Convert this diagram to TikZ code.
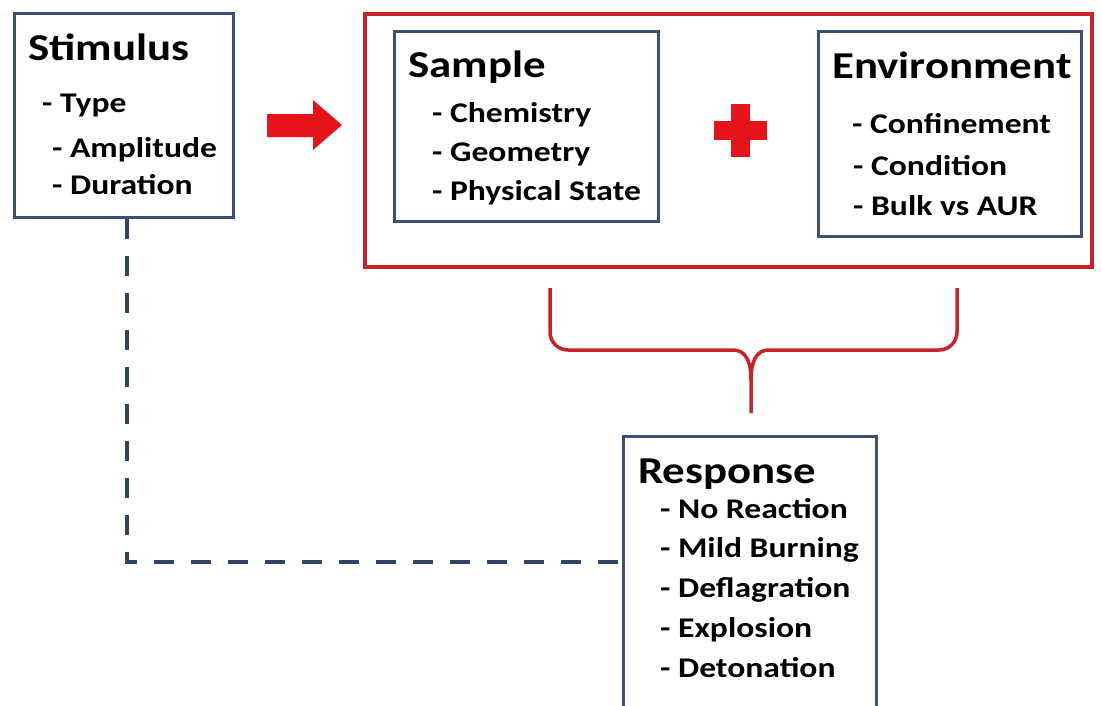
\documentclass[tikz,border=0pt]{standalone}
\usepackage{fontspec}
\setmainfont{Carlito}[FakeStretch=1.18]
\definecolor{boxblue}{HTML}{3A5072}
\definecolor{dashblue}{HTML}{2E4565}
\definecolor{frred}{HTML}{C8232B}
\definecolor{brightred}{HTML}{E5141B}
\begin{document}
\begin{tikzpicture}[x=1pt,y=-1pt,
  box/.style={draw=boxblue,line width=3pt,fill=white,inner sep=0pt,anchor=north west},
  title/.style={anchor=base west,inner sep=0pt,font=\bfseries\fontsize{38}{38}\selectfont},
  item/.style={anchor=base west,inner sep=0pt,font=\bfseries\fontsize{28.5}{28.5}\selectfont},
  dashline/.style={draw=dashblue,line width=4pt,dash pattern=on 20pt off 17pt},
  redline/.style={draw=frred,line width=3.5pt}]
\useasboundingbox (0,0) rectangle (1101,705);
% red frame
\node[draw=frred,line width=3.5pt,inner sep=0pt,anchor=north west,minimum width=727pt,minimum height=253pt] (frame) at (363,12) {};
% boxes
\node[box,minimum width=219pt,minimum height=204pt] (stim) at (13,12) {};
\node[box,minimum width=264pt,minimum height=190pt] (samp) at (393,30) {};
\node[box,minimum width=263pt,minimum height=205pt] (env) at (817,30) {};
\node[box,minimum width=253pt,minimum height=285pt] (resp) at (622,435) {};
% texts
\node[title] (stimT) at (28,60) {Stimulus};
\node[item] (stim1) at (42,112) {- Type};
\node[item] (stim2) at (52,157) {- Amplitude};
\node[item] (stim3) at (52,194) {- Duration};
\node[title] (sampT) at (408,77) {Sample};
\node[item] (samp1) at (432,122) {- Chemistry};
\node[item] (samp2) at (432,161) {- Geometry};
\node[item] (samp3) at (432,200) {- Physical State};
\node[title] (envT) at (832,78) {Environment};
\node[item] (env1) at (852,133) {- Confinement};
\node[item] (env2) at (853,175) {- Condition};
\node[item] (env3) at (853,215) {- Bulk vs AUR};
\node[title] (respT) at (638,483) {Response};
\node[item] (resp1) at (660,518) {- No Reaction};
\node[item] (resp2) at (660,557) {- Mild Burning};
\node[item] (resp3) at (660,597) {- Deflagration};
\node[item] (resp4) at (660,637) {- Explosion};
\node[item] (resp5) at (660,677) {- Detonation};
% red arrow
\fill[brightred] (267,114) -- (313,114) -- (313,100) -- (342,125) -- (313,150) -- (313,137) -- (267,137) -- cycle;
% plus
\fill[brightred] (731,104) rectangle (750,157);
\fill[brightred] (714,121) rectangle (767,140);
% brace
\coordinate (btip) at (751,413);
\draw[redline,line join=round] (550,288) -- (550,332) to[out=-90,in=180] (568,350) -- (733,350)
  .. controls (745,350) and (751,360) .. (751,380) -- (btip);
\draw[redline,line join=round] (957,288) -- (957,332) to[out=-90,in=0] (939,350) -- (769,350)
  .. controls (757,350) and (751,360) .. (751,380);
% dashed connector
\coordinate (dcorner) at (127,562);
\draw[dashline] (stim.south -| dcorner) -- (dcorner) -- (dcorner -| resp.west);
\end{tikzpicture}
\end{document}
